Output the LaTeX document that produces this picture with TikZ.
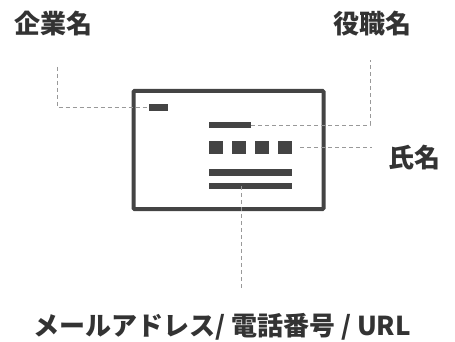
\documentclass[tikz,border=0pt]{standalone}
\usepackage{fontspec}
\newfontfamily\cjk{Noto Sans CJK JP}
\definecolor{ink}{HTML}{333333}
\definecolor{cardc}{HTML}{444444}
\definecolor{dashc}{HTML}{999999}
\tikzset{
  bar/.style={fill=cardc, draw=none, inner sep=0pt, outer sep=0pt, anchor=north west},
  lead/.style={draw=dashc, line width=0.9pt, dash pattern=on 4pt off 3pt},
  lbl/.style={text=ink, font=\cjk\bfseries\fontsize{26}{30}\selectfont, inner sep=0pt}
}
\begin{document}
\begin{tikzpicture}[x=1pt,y=-1pt]
\useasboundingbox (0,0) rectangle (455,342);
\coordinate (c1) at (57,67);
\coordinate (t1) at (370,60);
\coordinate (n0) at (300,147);
\coordinate (n1) at (372,147);
\coordinate (e0) at (241,186);
\coordinate (e1) at (241,289);
% card
\node[draw=cardc, line width=4pt, rounded corners=1pt, minimum width=190pt, minimum height=118pt, inner sep=0pt] (card) at (228.5,150) {};
% bars
\node[bar, minimum width=19pt, minimum height=7pt] (ca) at (149,104) {};
\node[bar, minimum width=42pt, minimum height=6pt] (ti) at (209,122) {};
\node[bar, minimum width=14pt, minimum height=13pt] (sq1) at (209,141) {};
\node[bar, minimum width=14pt, minimum height=13pt] (sq2) at (232,141) {};
\node[bar, minimum width=14pt, minimum height=13pt] (sq3) at (255,141) {};
\node[bar, minimum width=14pt, minimum height=13pt] (sq4) at (278,141) {};
\node[bar, minimum width=83pt, minimum height=7pt] (l1) at (209,169) {};
\node[bar, minimum width=83pt, minimum height=6pt] (l2) at (209,183) {};
% leaders
\draw[lead] (c1) |- (ca.west);
\draw[lead] (ti.east) -| (t1);
\draw[lead] (n0) -- (n1);
\draw[lead] (e0) -- (e1);
% labels
\node[lbl] (lcomp) at (53.5,24) {企業名};
\node[lbl] (ltitle) at (372.5,24) {役職名};
\node[lbl] (lname) at (414,158) {氏名};
\node[lbl] (lcont) at (222,327) {メールアドレス/ 電話番号 / URL};
\end{tikzpicture}
\end{document}
